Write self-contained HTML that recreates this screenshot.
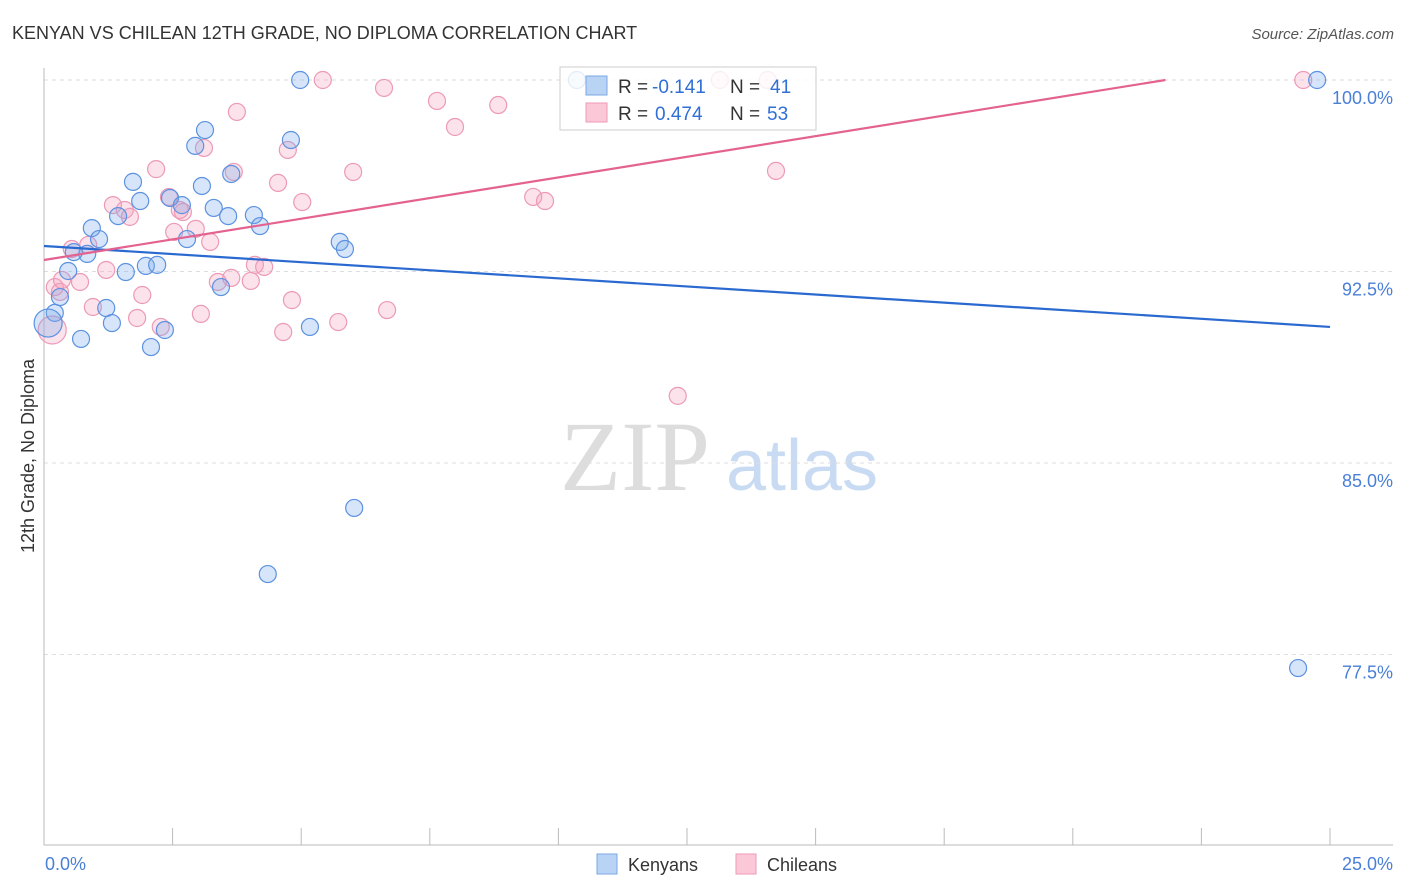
<!DOCTYPE html>
<html><head><meta charset="utf-8"><style>
body{margin:0;background:#fff;font-family:"Liberation Sans",sans-serif;}
</style></head><body>
<svg id="chart" width="1406" height="892" xmlns="http://www.w3.org/2000/svg" style="display:block">
<text x="12" y="39" font-size="18" fill="#333">KENYAN VS CHILEAN 12TH GRADE, NO DIPLOMA CORRELATION CHART</text>
<text x="1394" y="39" font-size="15" fill="#555" text-anchor="end" font-style="italic">Source: ZipAtlas.com</text>
<text transform="translate(34,456) rotate(-90)" font-size="18" fill="#333" text-anchor="middle">12th Grade, No Diploma</text>
<g>
<text x="635" y="490" font-size="100" fill="#ddd" font-family="Liberation Serif,serif" text-anchor="middle">ZIP</text>
<text x="802" y="490" font-size="72" fill="#c9dbf3" text-anchor="middle">atlas</text>
</g>
<g id="grid"></g><g id="axes"></g><g id="pts"></g><g id="lines"></g>
<g>
<rect x="560" y="67" width="256" height="63" fill="rgba(255,255,255,0.82)" stroke="#ccc"/>
<rect x="586" y="76" width="21" height="19" fill="#b9d3f5" stroke="#7aa7e6"/>
<rect x="586" y="103" width="21" height="19" fill="#fbc8d8" stroke="#ee9ab8"/>
<text x="618" y="93" font-size="19" fill="#333">R =</text>
<text x="652" y="93" font-size="19" fill="#2f6fd6">-0.141</text>
<text x="730" y="93" font-size="19" fill="#333">N =</text>
<text x="770" y="93" font-size="19" fill="#2f6fd6">41</text>
<text x="618" y="120" font-size="19" fill="#333">R =</text>
<text x="655" y="120" font-size="19" fill="#2f6fd6">0.474</text>
<text x="730" y="120" font-size="19" fill="#333">N =</text>
<text x="767" y="120" font-size="19" fill="#2f6fd6">53</text>
</g>
<g>
<rect x="597" y="854" width="20" height="20" fill="#b9d3f5" stroke="#7aa7e6"/>
<text x="628" y="871" font-size="18" fill="#333">Kenyans</text>
<rect x="736" y="854" width="20" height="20" fill="#fbc8d8" stroke="#ee9ab8"/>
<text x="767" y="871" font-size="18" fill="#333">Chileans</text>
</g>
<text x="45" y="870" font-size="18" fill="#4a7fd6">0.0%</text>
<text x="1393" y="870" font-size="18" fill="#4a7fd6" text-anchor="end">25.0%</text>
</svg>
<script>
const yTicks=[100,92.5,85,77.5];
const yTickLabels=["100.0%","92.5%","85.0%","77.5%"];
const kenX=[4.98,10.36,24.75,3.13,4.80,2.94,1.73,3.07,3.64,1.87,2.45,2.68,3.30,3.58,4.08,4.20,1.44,0.93,1.07,2.78,0.84,0.58,0.47,1.59,1.98,2.20,5.75,5.85,0.31,0.21,0.08,1.21,1.32,3.44,5.17,0.72,2.08,2.35,6.03,4.35,24.38];
const kenY=[100,100,100,98.04,97.65,97.42,96.01,95.85,96.32,95.26,95.38,95.10,94.99,94.67,94.71,94.28,94.67,94.20,93.77,93.77,93.19,93.26,92.52,92.48,92.72,92.76,93.66,93.38,91.50,90.88,90.48,91.07,90.48,91.89,90.33,89.86,89.54,90.21,83.24,80.65,76.97];
const chiX=[5.42,13.14,14.07,24.48,6.61,7.64,8.83,3.75,7.99,3.11,4.74,2.18,3.69,6.01,14.23,4.55,2.43,5.02,9.51,9.74,1.34,1.57,1.67,2.70,2.53,2.95,3.23,0.54,0.86,1.21,4.10,4.28,0.70,3.38,4.02,0.21,0.31,0.95,1.91,1.81,4.82,3.05,6.67,2.27,4.65,5.72,0.16,12.32,0.35,3.64,2.64];
const chiY=[100,100,100,100,99.69,99.18,99.02,98.75,98.16,97.34,97.26,96.51,96.40,96.40,96.44,95.97,95.42,95.22,95.42,95.26,95.10,94.91,94.64,94.83,94.05,94.17,93.66,93.38,93.54,92.56,92.76,92.68,92.09,92.09,92.13,91.89,91.70,91.11,91.58,90.68,91.38,90.84,90.99,90.33,90.13,90.52,90.21,87.63,92.17,92.25,94.91];
const kenTrend=[[0,93.50],[25,90.33]];
const chiTrend=[[0,92.95],[21.8,100]];
const X0=44,X1=1330,Y0=845,Y1=68,YMIN=70.04,YMAX=100.47;
const xs=v=>X0+(v/25)*(X1-X0);
const ys=v=>Y0-(v-YMIN)/(YMAX-YMIN)*(Y0-Y1);
const NS="http://www.w3.org/2000/svg";
function mk(t,a,p){const e=document.createElementNS(NS,t);for(const k in a)e.setAttribute(k,a[k]);p.appendChild(e);return e;}
const grid=document.getElementById('grid'),axes=document.getElementById('axes'),pts=document.getElementById('pts'),lines=document.getElementById('lines');
yTicks.forEach((t,i)=>{
 const l=mk('line',{x1:X0,x2:1393,y1:ys(t),y2:ys(t),stroke:'#ddd','stroke-dasharray':'4 4'},grid);
 
 
 const tx=mk('text',{x:1393,y:ys(t)+24,'font-size':18,fill:'#4a7fd6','text-anchor':'end'},grid);
 tx.textContent=yTickLabels[i];
 
 
});
const ax=mk('line',{x1:X0,x2:X0,y1:Y1,y2:Y0,stroke:'#bbb'},axes);


const bx=mk('line',{x1:X0,x2:1393,y1:Y0,y2:Y0,stroke:'#bbb'},axes);


for(let i=0;i<=10;i++){
 const t=mk('line',{x1:xs(i*2.5),x2:xs(i*2.5),y1:Y0,y2:828,stroke:'#bbb'},axes);
 
 
}
function dots(X,Y,fill,stroke,name){
 X.forEach((x,i)=>{
  const r=(x<0.2&&Y[i]<91)?14:8.5;
  const c=mk('circle',{cx:xs(x),cy:ys(Y[i]),r:r,fill:fill,stroke:stroke,'stroke-width':1.2},pts);
  
  
 });
}
dots(chiX,chiY,'rgba(244,160,190,0.3)','#ec9ab7','chilean-point');
dots(kenX,kenY,'rgba(120,170,235,0.3)','#5c92e0','kenyan-point');
const k=mk('line',{x1:xs(kenTrend[0][0]),y1:ys(kenTrend[0][1]),x2:xs(kenTrend[1][0]),y2:ys(kenTrend[1][1]),stroke:'#2a6ad0','stroke-width':2.2},lines);


const c=mk('line',{x1:xs(chiTrend[0][0]),y1:ys(chiTrend[0][1]),x2:xs(chiTrend[1][0]),y2:ys(chiTrend[1][1]),stroke:'#e4628f','stroke-width':2.2},lines);


</script>
</body></html>
